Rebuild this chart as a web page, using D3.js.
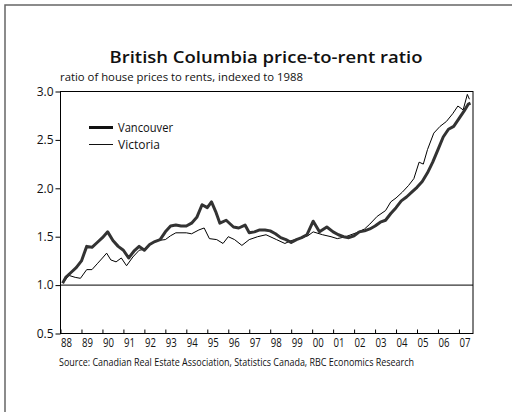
<!DOCTYPE html>
<html>
<head>
<meta charset="utf-8">
<script src="https://cdn.jsdelivr.net/npm/d3@7"></script>
<style>
  body { margin: 0; background: #fff; }
  svg { display: block; font-family: "Open Sans", sans-serif; }
</style>
</head>
<body>
<svg width="512" height="412"></svg>
<script>
// Chart data (decimal years)
var vanYears = [1988.1, 1988.25, 1988.5, 1988.75, 1989.0, 1989.25, 1989.5, 1989.75, 1990.0, 1990.25,
    1990.5, 1990.75, 1991.0, 1991.25, 1991.5, 1991.75, 1992.0, 1992.25, 1992.5, 1992.75,
    1993.0, 1993.25, 1993.5, 1993.75, 1994.0, 1994.25, 1994.5, 1994.75, 1995.0, 1995.2,
    1995.4, 1995.6, 1995.9, 1996.25, 1996.5, 1996.8, 1997.0, 1997.25, 1997.5, 1997.75,
    1998.0, 1998.25, 1998.5, 1998.75, 1999.0, 1999.25, 1999.5, 1999.75, 2000.05, 2000.35,
    2000.7, 2001.0, 2001.25, 2001.5, 2001.75, 2002.0, 2002.25, 2002.5, 2002.75, 2003.0,
    2003.25, 2003.5, 2003.75, 2004.0, 2004.25, 2004.5, 2004.75, 2005.0, 2005.25, 2005.5,
    2005.75, 2006.0, 2006.25, 2006.5, 2006.75, 2007.0, 2007.25, 2007.45, 2007.55];
var vancouver = [1.02, 1.08, 1.13, 1.18, 1.25, 1.40, 1.39, 1.44, 1.49, 1.55,
    1.46, 1.40, 1.36, 1.28, 1.35, 1.40, 1.36, 1.42, 1.45, 1.47,
    1.55, 1.61, 1.62, 1.61, 1.61, 1.64, 1.70, 1.83, 1.80, 1.86,
    1.76, 1.64, 1.67, 1.60, 1.59, 1.62, 1.54, 1.55, 1.57, 1.57,
    1.56, 1.53, 1.49, 1.47, 1.44, 1.47, 1.49, 1.52, 1.66, 1.55,
    1.60, 1.55, 1.52, 1.50, 1.49, 1.51, 1.55, 1.56, 1.58, 1.61,
    1.65, 1.67, 1.74, 1.80, 1.87, 1.91, 1.96, 2.01, 2.07, 2.16,
    2.27, 2.40, 2.53, 2.61, 2.64, 2.72, 2.80, 2.87, 2.88];

var vicYears = [1988.15, 1988.4, 1988.7, 1988.95, 1989.25, 1989.5, 1989.75, 1990.0, 1990.2, 1990.4,
    1990.65, 1990.9, 1991.15, 1991.45, 1991.75, 1992.0, 1992.25, 1992.6, 1993.0, 1993.25,
    1993.5, 1994.0, 1994.25, 1994.6, 1994.85, 1995.1, 1995.45, 1995.75, 1996.0, 1996.3,
    1996.65, 1997.0, 1997.4, 1997.8, 1998.3, 1998.7, 1999.0, 1999.4, 1999.8, 2000.05,
    2000.5, 2000.9, 2001.2, 2001.6, 2002.1, 2002.5, 2002.75, 2003.1, 2003.5, 2003.75,
    2004.0, 2004.3, 2004.6, 2004.85, 2005.1, 2005.3, 2005.5, 2005.8, 2006.1, 2006.4,
    2006.7, 2006.95, 2007.2, 2007.4, 2007.5];
var victoria = [1.03, 1.10, 1.08, 1.07, 1.16, 1.16, 1.22, 1.28, 1.33, 1.26,
    1.24, 1.28, 1.20, 1.29, 1.36, 1.37, 1.42, 1.46, 1.47, 1.51,
    1.54, 1.54, 1.53, 1.57, 1.59, 1.48, 1.47, 1.43, 1.50, 1.47,
    1.41, 1.47, 1.50, 1.52, 1.47, 1.43, 1.46, 1.48, 1.51, 1.55,
    1.52, 1.50, 1.48, 1.50, 1.54, 1.58, 1.63, 1.71, 1.77, 1.86,
    1.90, 1.96, 2.03, 2.10, 2.27, 2.25, 2.40, 2.57, 2.64, 2.69,
    2.77, 2.85, 2.81, 2.97, 2.92];

var yearTicks = [1988, 1989, 1990, 1991, 1992, 1993, 1994, 1995, 1996, 1997,
    1998, 1999, 2000, 2001, 2002, 2003, 2004, 2005, 2006, 2007];
var yearLabels = ["88", "89", "90", "91", "92", "93", "94", "95", "96", "97",
    "98", "99", "00", "01", "02", "03", "04", "05", "06", "07"];
var yTicks = [0.5, 1.0, 1.5, 2.0, 2.5, 3.0];

var svg = d3.select("svg");
var plotLeft = 60.5, plotRight = 473, plotTop = 91.5, plotBottom = 333.5;

var x = d3.scaleLinear().domain([1988, 2007.67]).range([plotLeft, plotRight]);
var y = d3.scaleLinear().domain([0.5, 3.0]).range([plotBottom, plotTop]);

// outer frame
svg.append("rect")
    .attr("x", 5).attr("y", 5)
    .attr("width", 600).attr("height", 500)
    .attr("fill", "none")
    .attr("stroke", "#666")
    .attr("stroke-width", 1.5);

// titles
svg.append("text")
    .attr("x", 266).attr("y", 63)
    .attr("text-anchor", "middle")
    .attr("font-size", 17).attr("font-weight", 600)
    .attr("textLength", 313).attr("lengthAdjust", "spacingAndGlyphs")
    .attr("fill", "#111")
    .text("British Columbia price-to-rent ratio");

svg.append("text")
    .attr("x", 60).attr("y", 80.5)
    .attr("font-size", 11)
    .attr("textLength", 243).attr("lengthAdjust", "spacingAndGlyphs")
    .attr("fill", "#111")
    .text("ratio of house prices to rents, indexed to 1988");

// plot frame
svg.append("rect")
    .attr("x", plotLeft).attr("y", plotTop)
    .attr("width", plotRight - plotLeft).attr("height", plotBottom - plotTop)
    .attr("fill", "none").attr("stroke", "#000").attr("stroke-width", 1);

// y axis
var yAxis = svg.append("g")
    .attr("transform", "translate(" + plotLeft + ",0)")
    .call(d3.axisLeft(y).tickValues(yTicks).tickFormat(d3.format(".1f")).tickSize(5).tickPadding(2));
yAxis.select(".domain").remove();
yAxis.selectAll("text").attr("font-size", 12).attr("fill", "#111")
    .attr("font-family", "'Open Sans', sans-serif");

// x axis (ticks inward, labels right of tick)
var xAxis = svg.append("g")
    .attr("transform", "translate(0," + plotBottom + ")")
    .call(d3.axisBottom(x).tickValues(yearTicks).tickSize(-4).tickFormat(function (d, i) { return yearLabels[i]; }));
xAxis.select(".domain").remove();
xAxis.selectAll("text")
    .attr("font-size", 12).attr("fill", "#111")
    .attr("font-family", "'Open Sans', sans-serif")
    .attr("text-anchor", "start")
    .attr("x", 0).attr("y", 5)
    .attr("textLength", 11).attr("lengthAdjust", "spacingAndGlyphs");

// reference line at 1.0
svg.append("line")
    .attr("x1", plotLeft).attr("x2", plotRight)
    .attr("y1", y(1)).attr("y2", y(1))
    .attr("stroke", "#000").attr("stroke-width", 1);

var line = d3.line()
    .x(function (d) { return x(d[0]); })
    .y(function (d) { return y(d[1]); });

svg.append("path")
    .datum(d3.zip(vicYears, victoria))
    .attr("d", line)
    .attr("fill", "none").attr("stroke", "#000").attr("stroke-width", 1);

svg.append("path")
    .datum(d3.zip(vanYears, vancouver))
    .attr("d", line)
    .attr("fill", "none").attr("stroke", "#333").attr("stroke-width", 3)
    .attr("stroke-linejoin", "round");

// legend
var legend = [["Vancouver", 3, 127.5, 55], ["Victoria", 1, 144.5, 42]];
legend.forEach(function (l) {
    svg.append("line")
        .attr("x1", 89).attr("x2", 113)
        .attr("y1", l[2]).attr("y2", l[2])
        .attr("stroke", "#111").attr("stroke-width", l[1]);
    svg.append("text")
        .attr("x", 118).attr("y", l[2] + 4)
        .attr("font-size", 12).attr("fill", "#111")
        .attr("textLength", l[3]).attr("lengthAdjust", "spacingAndGlyphs")
        .text(l[0]);
});

// source
svg.append("text")
    .attr("x", 59).attr("y", 366)
    .attr("font-size", 10).attr("fill", "#111")
    .attr("textLength", 355).attr("lengthAdjust", "spacingAndGlyphs")
    .text("Source: Canadian Real Estate Association, Statistics Canada, RBC Economics Research");
</script>
</body>
</html>
